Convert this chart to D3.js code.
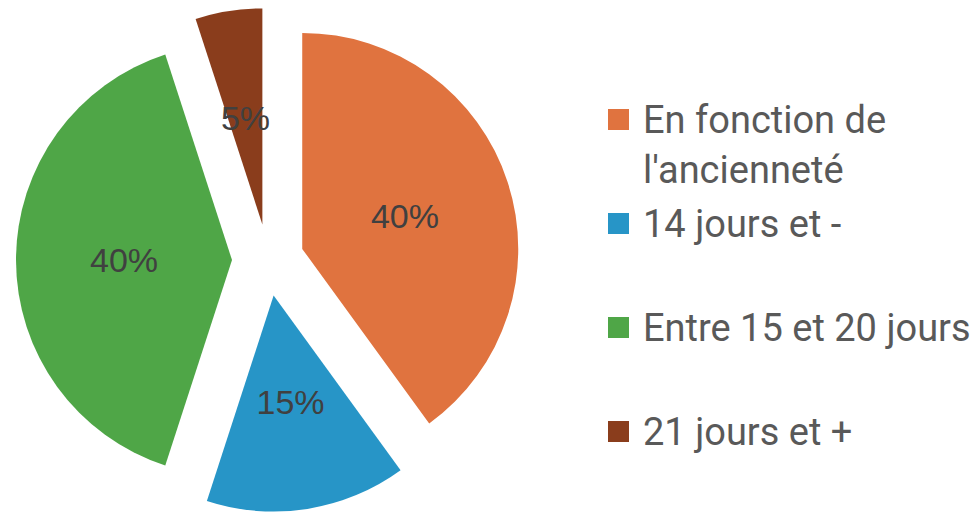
<!DOCTYPE html>
<html>
<head>
<meta charset="utf-8">
<script src="https://cdn.jsdelivr.net/npm/d3@7"></script>
<style>
  body { margin: 0; background: #fff; }
</style>
</head>
<body>
<div id="chart"></div>
<script>
// data
const categories = ["En fonction de\nl'ancienneté", "14 jours et -", "Entre 15 et 20 jours", "21 jours et +"];
const values = [40, 15, 40, 5];
const colors = ["#E0733F", "#2795C7", "#4FA647", "#8A3D1C"];

const width = 977;
const height = 512;
const cx = 268, cy = 260;
const radius = 216;
const explode = 36;

const svg = d3.select('#chart')
    .append('svg')
    .attr('width', width)
    .attr('height', height);

const pie = d3.pie().sort(null).value(d => d);
const arc = d3.arc().innerRadius(0).outerRadius(radius);
const color = d3.scaleOrdinal().domain(categories).range(colors);

const slices = pie(values).map((p, i) => Object.assign(p, { name: categories[i] }));

// offset each slice along its bisector
const sliceG = svg.append('g')
    .attr('transform', `translate(${cx},${cy})`)
    .selectAll('g')
    .data(slices)
    .enter()
    .append('g')
    .attr('transform', d => {
        const mid = (d.startAngle + d.endAngle) / 2;
        return `translate(${explode * Math.sin(mid)},${-explode * Math.cos(mid)})`;
    });

sliceG.append('path')
    .attr('d', arc)
    .attr('fill', d => color(d.name));

sliceG.append('text')
    .attr('transform', d => `translate(${arc.centroid(d)})`)
    .attr('text-anchor', 'middle')
    .attr('dy', '0.36em')
    .style('font-family', '"Liberation Sans", Arial, sans-serif')
    .style('font-size', '34px')
    .attr('fill', '#404040')
    .text(d => d.value + '%');

// legend
const legendY = d3.scalePoint()
    .domain(categories)
    .range([119.5, 431.5]);

const legend = svg.append('g')
    .selectAll('g')
    .data(categories)
    .enter()
    .append('g')
    .attr('transform', d => `translate(608,${legendY(d)})`);

legend.append('rect')
    .attr('x', 0)
    .attr('y', -10.5)
    .attr('width', 21)
    .attr('height', 21)
    .attr('fill', d => color(d));

const legendText = legend.append('text')
    .attr('x', 35)
    .style('font-family', 'Roboto, "Liberation Sans", sans-serif')
    .style('font-size', '38px')
    .attr('fill', '#595959');

legendText.selectAll('tspan')
    .data(d => d.split('\n'))
    .enter()
    .append('tspan')
    .attr('x', 35)
    .attr('y', (d, i) => i * 50)
    .attr('dy', '0.36em')
    .text(d => d);
</script>
</body>
</html>
